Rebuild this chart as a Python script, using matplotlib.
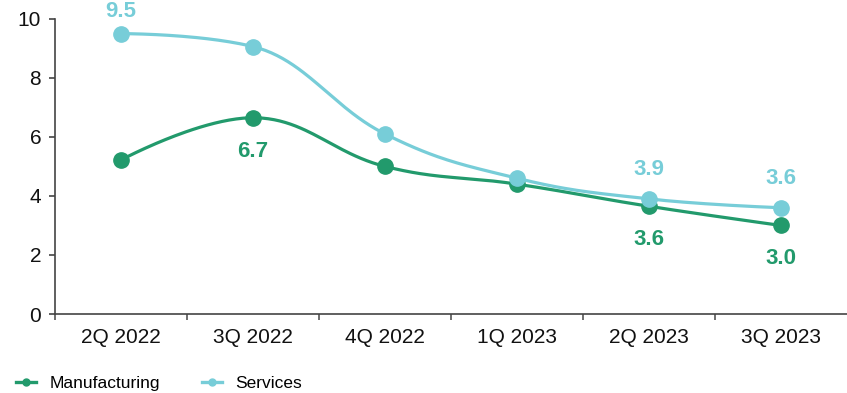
import numpy as np
import matplotlib
matplotlib.use("Agg")
import matplotlib.pyplot as plt
from matplotlib.lines import Line2D

quarters      = ["2Q 2022", "3Q 2022", "4Q 2022", "1Q 2023", "2Q 2023", "3Q 2023"]
manufacturing = [5.22, 6.65, 5.0, 4.4, 3.65, 3.0]
services      = [9.5, 9.06, 6.1, 4.6, 3.9, 3.6]

# value labels shown on the chart (index -> text)
mfg_labels = {1: "6.7", 4: "3.6", 5: "3.0"}
svc_labels = {0: "9.5", 4: "3.9", 5: "3.6"}

GREEN = "#229a6c"
CYAN  = "#77cdd8"

plt.rcParams["font.family"] = ["Liberation Sans", "DejaVu Sans"]


def spline_path(x, y, n=50):
    """Highcharts-style spline: cubic beziers with smoothing 1.5 and no false extremes."""
    x = np.asarray(x, float)
    y = np.asarray(y, float)
    sm, den = 1.5, 2.5
    left = [(x[i], y[i]) for i in range(len(x))]
    right = [(x[i], y[i]) for i in range(len(x))]
    for i in range(1, len(x) - 1):
        lx = (sm * x[i] + x[i - 1]) / den
        ly = (sm * y[i] + y[i - 1]) / den
        rx = (sm * x[i] + x[i + 1]) / den
        ry = (sm * y[i] + y[i + 1]) / den
        corr = (ry - ly) * (rx - x[i]) / (rx - lx) + y[i] - ry
        ly += corr
        ry += corr
        if ly > y[i - 1] and ly > y[i]:
            ly = max(y[i - 1], y[i]); ry = 2 * y[i] - ly
        elif ly < y[i - 1] and ly < y[i]:
            ly = min(y[i - 1], y[i]); ry = 2 * y[i] - ly
        if ry > y[i + 1] and ry > y[i]:
            ry = max(y[i + 1], y[i]); ly = 2 * y[i] - ry
        elif ry < y[i + 1] and ry < y[i]:
            ry = min(y[i + 1], y[i]); ly = 2 * y[i] - ry
        left[i] = (lx, ly)
        right[i] = (rx, ry)
    t = np.linspace(0, 1, n)[:, None]
    segs = []
    for i in range(len(x) - 1):
        p0 = np.array([x[i], y[i]])
        p1 = np.array(right[i])
        p2 = np.array(left[i + 1])
        p3 = np.array([x[i + 1], y[i + 1]])
        segs.append((1 - t) ** 3 * p0 + 3 * (1 - t) ** 2 * t * p1 + 3 * (1 - t) * t ** 2 * p2 + t ** 3 * p3)
    pts = np.vstack(segs)
    return pts[:, 0], pts[:, 1]


fig = plt.figure(figsize=(8.47, 3.93), dpi=100)
ax = fig.add_axes([0.065, 0.201, 0.935, 0.751])

xpos = np.arange(len(quarters))
series = [(manufacturing, GREEN, mfg_labels, -24), (services, CYAN, svc_labels, 21)]
for vals, color, labels, offset in series:
    cx, cy = spline_path(xpos, vals)
    ax.plot(cx, cy, color=color, linewidth=2.3, solid_capstyle="round", zorder=3)
    ax.plot(xpos, vals, "o", color=color, markersize=11, zorder=4)
    for i, txt in labels.items():
        off = offset
        if vals[i] > 9:
            off = 16
        ax.annotate(txt, (xpos[i], vals[i]), xytext=(0, off), textcoords="offset points",
                    ha="center", va="center", fontsize=16, fontweight="bold", color=color)

ax.set_xlim(-0.5, len(quarters) - 0.5)
ax.set_ylim(0, 10)
ax.set_yticks([0, 2, 4, 6, 8, 10])
ax.set_xticks(xpos)
ax.set_xticklabels(quarters)
ax.set_xticks(np.arange(-0.5, len(quarters) - 0.5), minor=True)
ax.tick_params(axis="x", which="major", length=0, pad=10, labelsize=15, colors="#111111")
ax.tick_params(axis="x", which="minor", length=4, width=1.2, color="#555555")
ax.tick_params(axis="y", length=4, width=1.2, pad=6, labelsize=15, colors="#111111")
ax.tick_params(axis="y", color="#444444")
for side in ["top", "right"]:
    ax.spines[side].set_visible(False)
for side in ["left", "bottom"]:
    ax.spines[side].set_color("#444444")
    ax.spines[side].set_linewidth(1.2)

handles = [
    Line2D([], [], color=GREEN, linewidth=2.4, marker="o", markersize=5),
    Line2D([], [], color=CYAN, linewidth=2.4, marker="o", markersize=5),
]
fig.legend(handles, ["Manufacturing", "Services"], loc="lower left", bbox_to_anchor=(0.0, -0.035),
           ncol=2, frameon=False, fontsize=12.5, handlelength=1.15, handletextpad=0.8,
           columnspacing=2.4)

fig.savefig("out.png", dpi=100)
